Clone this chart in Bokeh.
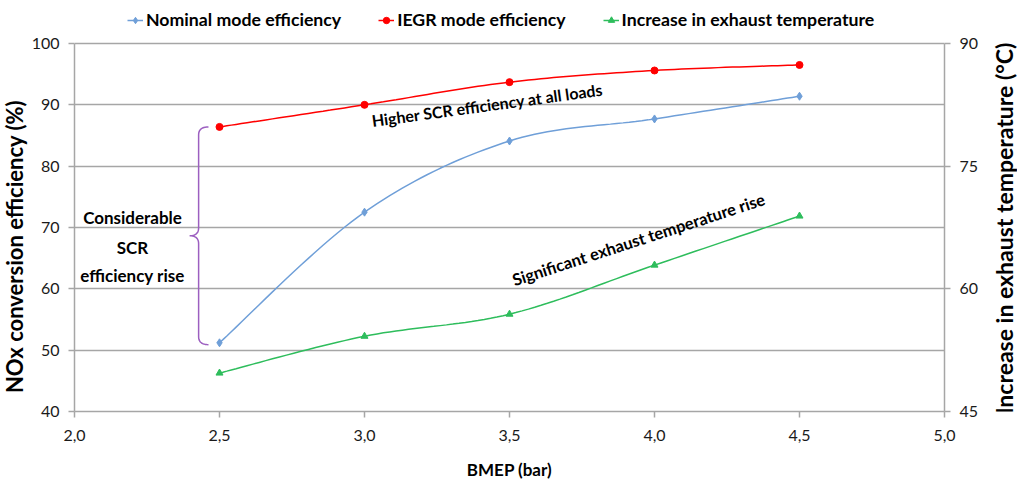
import numpy as np
from bokeh.plotting import figure
from bokeh.layouts import row
from bokeh.models import (Range1d, LinearAxis, Legend, LegendItem, Label,
                          CustomJSTickFormatter, FixedTicker)
from bokeh.core.properties import value
from bokeh.embed import file_html
from bokeh.resources import INLINE

# ---------------- data ----------------
bmep = [2.5, 3.0, 3.5, 4.0, 4.5]
nominal_eff = [51.2, 72.5, 84.1, 87.7, 91.4]
iegr_eff = [86.4, 90.0, 93.7, 95.6, 96.5]
temp_rise = [49.7, 54.2, 56.9, 62.9, 68.9]

x_ticks = [2.0, 2.5, 3.0, 3.5, 4.0, 4.5, 5.0]
left_ticks = [40, 50, 60, 70, 80, 90, 100]
right_ticks = [45, 60, 75, 90]

series_names = ["Nominal mode efficiency", "IEGR mode efficiency",
                "Increase in exhaust temperature"]
x_title = "BMEP (bar)"
left_title = "NOx conversion efficiency (%)"
right_title = "Increase in exhaust temperature (°C)"

FONT = "Lato"
GRID = "#a6a6a6"
BLUE = "#6f9fd8"
RED = "#ff0000"
GREEN = "#2ebd5c"
PURPLE = "#9c5fc0"

# layout: plotting band 368 px tall, plus headroom for the legend
BAND, HEAD, BOTTOM = 368, 43, 74
FRAME_H = BAND + HEAD
H = FRAME_H + BOTTOM
grow = FRAME_H / BAND
left_lo, left_hi = left_ticks[0], left_ticks[-1]
right_lo, right_hi = right_ticks[0], right_ticks[-1]


def smooth(xs, ys, n=24):
    """Excel-style smoothed line (Catmull-Rom Bezier through the points)."""
    P = np.column_stack([xs, ys]).astype(float)
    E = np.vstack([P[0], P, P[-1]])
    out = []
    t = np.linspace(0, 1, n)[:, None]
    for i in range(len(P) - 1):
        p0, p1, p2, p3 = E[i], E[i + 1], E[i + 2], E[i + 3]
        c1 = p1 + (p2 - p0) / 6
        c2 = p2 - (p3 - p1) / 6
        seg = (1 - t) ** 3 * p1 + 3 * (1 - t) ** 2 * t * c1 + 3 * (1 - t) * t ** 2 * c2 + t ** 3 * p2
        out.append(seg if i == 0 else seg[1:])
    a = np.vstack(out)
    return a[:, 0], a[:, 1]


p = figure(frame_width=870, frame_height=FRAME_H,
           x_range=Range1d(x_ticks[0], x_ticks[-1]),
           y_range=Range1d(left_lo, left_lo + (left_hi - left_lo) * grow),
           output_backend="svg", toolbar_location=None,
           min_border_left=43, min_border_right=44,
           min_border_top=0, min_border_bottom=BOTTOM)
p.extra_y_ranges = {"temp": Range1d(right_lo, right_lo + (right_hi - right_lo) * grow)}
p.outline_line_color = None
p.background_fill_color = "white"
p.border_fill_color = "white"

# grid
p.xgrid.visible = False
p.ygrid.ticker = FixedTicker(ticks=left_ticks)
p.ygrid.grid_line_color = GRID
p.ygrid.grid_line_width = 1.5


def style_axis(ax):
    ax.axis_line_color = GRID
    ax.axis_line_width = 1.5
    ax.major_tick_line_color = GRID
    ax.major_tick_line_width = 1.5
    ax.major_tick_out = 6
    ax.major_tick_in = 0
    ax.minor_tick_line_color = None
    ax.major_label_text_font = FONT
    ax.major_label_text_font_size = "16px"
    ax.major_label_text_color = "#1a1a1a"
    ax.axis_label_text_font = FONT
    ax.axis_label_text_font_size = "17px"
    ax.axis_label_text_font_style = "bold"
    ax.axis_label_text_color = "#000000"


style_axis(p.xaxis[0])
style_axis(p.yaxis[0])

p.xaxis.ticker = FixedTicker(ticks=x_ticks)
p.xaxis.formatter = CustomJSTickFormatter(code="return tick.toFixed(1).replace('.', ',');")
p.xaxis.axis_label = x_title
p.xaxis.major_label_standoff = 12
p.xaxis.axis_label_standoff = 15

p.yaxis.ticker = FixedTicker(ticks=left_ticks)
p.yaxis.bounds = (left_lo, left_hi)
p.yaxis.major_label_standoff = 9

rax = LinearAxis(y_range_name="temp", ticker=FixedTicker(ticks=right_ticks),
                 bounds=(right_lo, right_hi))
style_axis(rax)
rax.major_label_standoff = 9
p.add_layout(rax, "right")

# series
sx, sy = smooth(bmep, nominal_eff)
l1 = p.line(sx, sy, line_color=BLUE, line_width=1.5)
m1 = p.scatter(bmep, nominal_eff, marker="diamond", size=8, color=BLUE)

sx, sy = smooth(bmep, iegr_eff)
l2 = p.line(sx, sy, line_color=RED, line_width=1.5)
m2 = p.scatter(bmep, iegr_eff, marker="circle", size=7, color=RED)

sx, sy = smooth(bmep, temp_rise)
l3 = p.line(sx, sy, line_color=GREEN, line_width=1.5, y_range_name="temp")
m3 = p.scatter(bmep, temp_rise, marker="triangle", size=7, color=GREEN, y_range_name="temp")

legend = Legend(items=[LegendItem(label=series_names[0], renderers=[l1, m1]),
                       LegendItem(label=series_names[1], renderers=[l2, m2]),
                       LegendItem(label=series_names[2], renderers=[l3, m3])],
                orientation="horizontal", location=(53, FRAME_H - 30),
                label_text_font=FONT, label_text_font_size="17.7px",
                label_text_font_style="bold", label_text_color="#000000",
                glyph_width=16, glyph_height=16, label_standoff=3, spacing=37,
                padding=0, margin=0, border_line_color=None,
                background_fill_alpha=0)
p.add_layout(legend, "center")

# brace between first points of the two efficiency curves
x0 = bmep[0]
xb, xh, xc = x0 - 0.072, x0 - 0.038, x0 - 0.103
yt, ybt = iegr_eff[0], nominal_eff[0] - 0.3
ym = (yt + ybt) / 2
r = 1.3


def quad(a, c, b, n=12):
    t = np.linspace(0, 1, n)[:, None]
    a, c, b = np.array(a), np.array(c), np.array(b)
    return (1 - t) ** 2 * a + 2 * (1 - t) * t * c + t ** 2 * b


pts = np.vstack([
    quad((xh, yt), (xb, yt), (xb, yt - r)),
    quad((xb, ym + r), (xb, ym), (xc, ym)),
    quad((xc, ym), (xb, ym), (xb, ym - r)),
    quad((xb, ybt + r), (xb, ybt), (xh, ybt)),
])
p.line(pts[:, 0], pts[:, 1], line_color=PURPLE, line_width=1.5)

# annotations
for txt, yy in [("Considerable", 71.6), ("SCR", 66.8), ("efficiency rise", 62.1)]:
    p.add_layout(Label(x=2.2, y=yy, text=txt, text_align="center",
                       text_baseline="middle", text_font=FONT,
                       text_font_size="17px", text_font_style="bold",
                       text_color="#000000"))

p.add_layout(Label(x=3.424, y=90.0, text="Higher SCR efficiency at all loads",
                   angle=7.8, angle_units="deg", text_align="center",
                   text_baseline="middle", text_font=FONT, text_font_size="16px",
                   text_font_style="bold", text_color="#000000"))
p.add_layout(Label(x=3.945, y=68.0, text="Significant exhaust temperature rise",
                   angle=18, angle_units="deg", text_align="center",
                   text_baseline="middle", text_font=FONT, text_font_size="16.5px",
                   text_font_style="bold", text_color="#000000"))


# vertical axis titles, drawn in narrow side strips (reading bottom-to-top)
def title_strip(text, width, x_center, y_from_top, size):
    s = figure(width=width, height=H, x_range=Range1d(0, width),
               y_range=Range1d(0, FRAME_H),
               x_axis_type=None, y_axis_type=None, output_backend="svg",
               toolbar_location=None, min_border_left=0, min_border_right=0,
               min_border_top=0, min_border_bottom=BOTTOM)
    s.outline_line_color = None
    s.border_fill_color = "white"
    s.background_fill_color = "white"
    s.text(x=[x_center], y=[FRAME_H - y_from_top], text=[text], angle=90, angle_units="deg",
           text_align="center", text_baseline="middle", text_font=value(FONT),
           text_font_size=size, text_font_style="bold", text_color="#000000")
    return s


left_strip = title_strip(left_title, 28, 14, 246, "22px")
right_strip = title_strip(right_title, 30, 15, 228, "23px")

layout = row(left_strip, p, right_strip, spacing=0)
open("out.html", "w").write(file_html(layout, INLINE))
